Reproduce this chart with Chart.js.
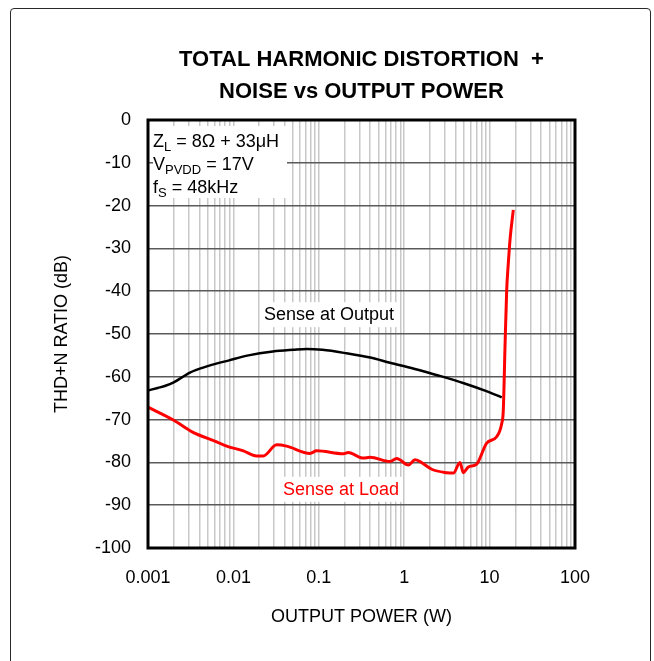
<!DOCTYPE html>
<html>
<head>
<meta charset="utf-8">
<script src="https://cdn.jsdelivr.net/npm/chart.js@4.4.1/dist/chart.umd.min.js"></script>
<style>
  html, body { margin: 0; padding: 0; background: #ffffff; width: 654px; height: 661px; overflow: hidden; }
  #frame { position: absolute; left: 10px; top: 8px; width: 641px; height: 700px; border: 1.5px solid #2a2a2a; border-radius: 4px; box-sizing: border-box; }
  #c { position: absolute; left: 0; top: 0; }
</style>
</head>
<body>
<div id="frame"></div>
<canvas id="c" width="654" height="661"></canvas>
<script>
// ---- data ----
const xTickLabels = ['0.001', '0.01', '0.1', '1', '10', '100'];
const yTicks = [0, -10, -20, -30, -40, -50, -60, -70, -80, -90, -100];

const outputPower = [0.001, 0.0013, 0.0016, 0.002, 0.0031, 0.005, 0.0091, 0.015, 0.029, 0.05, 0.072, 0.11, 0.21, 0.4, 0.68, 1.3, 2.62, 5, 9, 13.9];
const thdnOutput  = [-63.2, -62.6, -62.1, -61.3, -59.0, -57.5, -56.1, -55.0, -54.1, -53.7, -53.5, -53.7, -54.5, -55.5, -56.7, -58.1, -59.8, -61.5, -63.3, -64.8];

const loadPower = [0.001, 0.00198, 0.00324, 0.00637, 0.00834, 0.0131, 0.0187, 0.0224, 0.0321, 0.042, 0.0789, 0.0944, 0.194, 0.221, 0.332, 0.398, 0.682, 0.817, 1.117, 1.34, 1.53, 2.1, 3.15, 3.77, 4.5, 4.92, 5.62, 7.06, 9.25, 12.1, 13.86, 14.47, 15.15, 15.86, 16.56, 17.34, 18.95];
const thdnLoad  = [-67.1, -70.1, -72.8, -75.2, -76.2, -77.3, -78.5, -78.5, -75.9, -76.2, -77.9, -77.3, -78.0, -77.7, -79.0, -78.8, -79.8, -79.1, -80.6, -79.4, -79.8, -81.6, -82.4, -82.5, -80.0, -82.4, -81.1, -80.4, -75.5, -74.0, -70.9, -67.8, -53.0, -39.7, -33.5, -28.0, -21.0];

const seriesNames = ['Sense at Output', 'Sense at Load'];
const titleLines = ['TOTAL HARMONIC DISTORTION  +', 'NOISE vs OUTPUT POWER'];

// ---- build ----
const FONT = '"Liberation Sans", Arial, sans-serif';
const toPts = (xs, ys) => xs.map((x, i) => ({ x: x, y: ys[i] }));

// pick a condensed bold face for the title if installed
const probe = document.createElement('canvas').getContext('2d');
probe.font = 'bold 26px "Liberation Sans Narrow", monospace';
const wNarrow = probe.measureText(titleLines[0]).width;
probe.font = 'bold 26px monospace';
const wMono = probe.measureText(titleLines[0]).width;
const hasNarrow = Math.abs(wNarrow - wMono) > 1;
const titleFont = hasNarrow
  ? { family: '"Liberation Sans Narrow", "Liberation Sans", Arial, sans-serif', size: 26, weight: 'bold', lineHeight: 32 / 26 }
  : { family: FONT, size: 22, weight: 'bold', lineHeight: 32 / 22 };

const decades = xTickLabels.map(Number);
const logTicks = [];
decades.forEach((d, i) => {
  logTicks.push(d);
  if (i < decades.length - 1) for (let m = 2; m <= 9; m++) logTicks.push(+(d * m).toPrecision(3));
});

const labelPos = [
  { text: seriesNames[0], x: 0.1315, y: -45.6, color: '#000000' },
  { text: seriesNames[1], x: 0.182, y: -86.4, color: '#ff0000' }
];

const condLines = [
  [{ t: 'Z' }, { t: 'L', sub: true }, { t: ' = 8Ω + 33μH' }],
  [{ t: 'V' }, { t: 'PVDD', sub: true }, { t: ' = 17V' }],
  [{ t: 'f' }, { t: 'S', sub: true }, { t: ' = 48kHz' }]
];

const annotPlugin = {
  id: 'annot',
  beforeDatasetsDraw(chart) {
    const ctx = chart.ctx, a = chart.chartArea;
    const xs = chart.scales.x, ys = chart.scales.y;
    ctx.save();
    ctx.fillStyle = '#ffffff';
    ctx.fillRect(a.left + 5, a.top + 6, 134, 72);
    ctx.textBaseline = 'middle';
    ctx.textAlign = 'left';
    condLines.forEach((line, i) => {
      let x = a.left + 5;
      const y = a.top + 22 + i * 23;
      line.forEach(p => {
        ctx.font = (p.sub ? '13px ' : '18px ') + FONT;
        ctx.fillStyle = '#000000';
        ctx.fillText(p.t, x, p.sub ? y + 5 : y);
        x += ctx.measureText(p.t).width;
      });
    });
    ctx.font = '18px ' + FONT;
    labelPos.forEach(l => {
      const px = xs.getPixelForValue(l.x), py = ys.getPixelForValue(l.y);
      const w = ctx.measureText(l.text).width;
      ctx.fillStyle = '#ffffff';
      ctx.fillRect(px - w / 2 - 3, py - 13, w + 6, 25);
      ctx.fillStyle = l.color;
      ctx.textAlign = 'center';
      ctx.fillText(l.text, px, py);
    });
    ctx.restore();
  },
  afterDraw(chart) {
    const ctx = chart.ctx, a = chart.chartArea;
    ctx.save();
    ctx.strokeStyle = '#000000';
    ctx.lineWidth = 3;
    ctx.strokeRect(a.left, a.top, a.right - a.left, a.bottom - a.top);
    ctx.restore();
  }
};

new Chart(document.getElementById('c'), {
  type: 'line',
  data: {
    datasets: [
      { label: seriesNames[0], data: toPts(outputPower, thdnOutput), borderColor: '#000000', borderWidth: 2.5, pointRadius: 0, cubicInterpolationMode: 'monotone', fill: false },
      { label: seriesNames[1], data: toPts(loadPower, thdnLoad), borderColor: '#ff0000', borderWidth: 3, pointRadius: 0, cubicInterpolationMode: 'monotone', fill: false }
    ]
  },
  options: {
    responsive: false,
    animation: false,
    devicePixelRatio: 1,
    layout: { padding: { left: 40, right: 79, top: 0, bottom: 23 } },
    plugins: {
      legend: { display: false },
      tooltip: { enabled: false },
      title: {
        display: true,
        fullSize: false,
        text: titleLines,
        color: '#000000',
        font: titleFont,
        padding: { top: 44, bottom: 12 }
      }
    },
    scales: {
      x: {
        type: 'logarithmic',
        min: 0.001,
        max: 100,
        afterBuildTicks(scale) { scale.ticks = logTicks.map(v => ({ value: v })); },
        afterFit(scale) { scale.height = 90; },
        ticks: {
          autoSkip: false,
          maxRotation: 0,
          color: '#000000',
          padding: 19,
          font: { family: FONT, size: 18 },
          callback(v) { const i = decades.indexOf(+v); return i >= 0 ? xTickLabels[i] : ''; }
        },
        grid: { color: '#c8c8c8', lineWidth: 1.5, drawTicks: false },
        border: { display: false },
        title: { display: true, text: 'OUTPUT POWER (W)', color: '#000000', font: { family: FONT, size: 18 }, padding: { top: 0, bottom: 10 } }
      },
      y: {
        type: 'linear',
        min: -100,
        max: 0,
        afterBuildTicks(scale) { scale.ticks = yTicks.map(v => ({ value: v })); },
        afterFit(scale) { scale.width = 108; },
        ticks: { color: '#000000', padding: 17, font: { family: FONT, size: 18 } },
        grid: { color: '#5a5a5a', lineWidth: 1.5, drawTicks: false },
        border: { display: false },
        title: { display: true, text: 'THD+N RATIO (dB)', color: '#000000', font: { family: FONT, size: 18 }, padding: { top: 11, bottom: 0 } }
      }
    }
  },
  plugins: [annotPlugin]
});
</script>
</body>
</html>
